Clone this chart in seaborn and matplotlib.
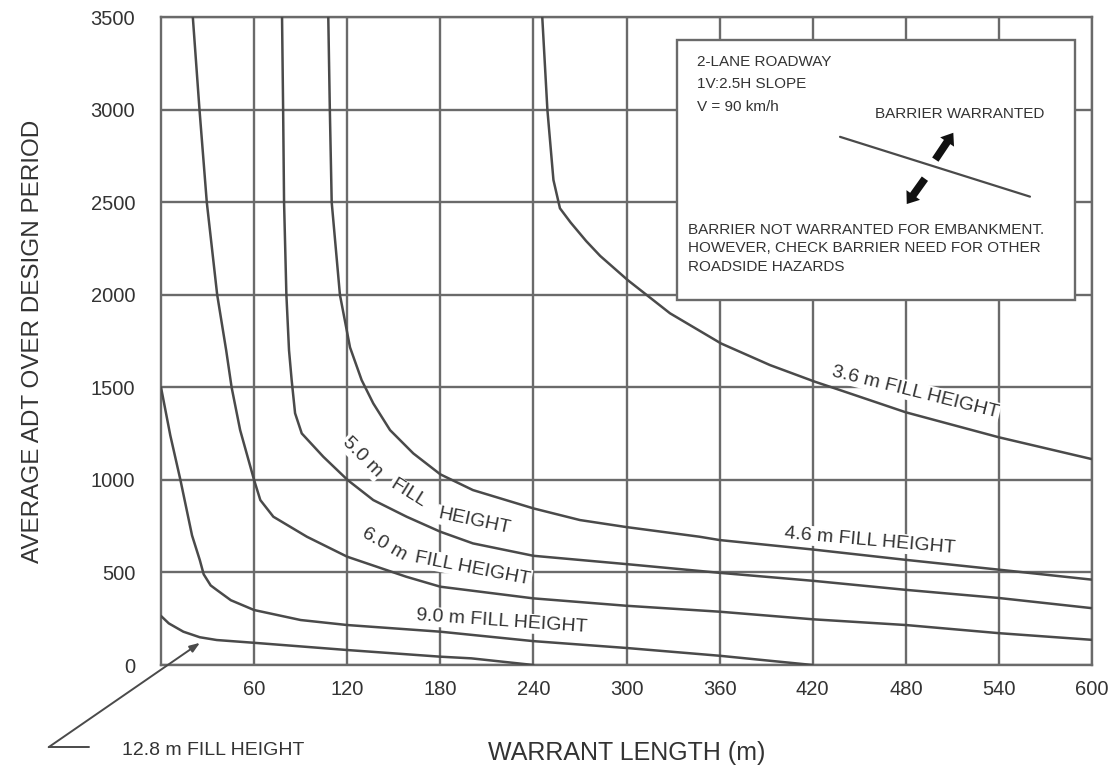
import matplotlib
matplotlib.use("Agg")
import matplotlib.pyplot as plt
from matplotlib.patches import Rectangle, FancyArrowPatch
import pandas as pd
import seaborn as sns

# ---- Barrier warrant curves: warrant length (m) vs. average ADT ----
fill_labels = ["12.8 m", "9.0 m", "6.0 m", "5.0 m", "4.6 m", "3.6 m"]

len_12_8 = [0, 5, 14.4, 25, 35.9, 60, 120, 180, 200, 240]
adt_12_8 = [265, 225, 180, 150, 135, 120, 81, 45, 36, 0]

len_9_0 = [0, 6, 12.5, 20, 25, 27.5, 32, 36, 45, 60, 90, 120, 180, 240, 300, 360, 420]
adt_9_0 = [1500, 1240, 1000, 700, 567, 490, 430, 405, 350, 297, 243, 216, 180, 129, 92, 50, 0]

len_6_0 = [20.5, 24.8, 29.5, 36.2, 42, 45.5, 51, 60, 64, 72.4, 94, 120, 158, 180, 240,
           300, 360, 420, 480, 540, 600]
adt_6_0 = [3500, 3000, 2500, 2000, 1700, 1500, 1269, 999, 891, 801, 693, 585, 477, 423, 360,
           320, 288, 247, 216, 172, 136]

len_5_0 = [78, 78.7, 79.3, 80.8, 82.5, 84.2, 86.4, 90.7, 104.6, 120.3, 136.8, 158.3, 180,
           201, 240, 300, 360, 420, 480, 540, 600]
adt_5_0 = [3500, 3000, 2500, 2000, 1700, 1539, 1360, 1251, 1125, 999, 891, 801, 720,
           657, 590, 545, 498, 455, 406, 362, 307]

len_4_6 = [107.8, 108.8, 110, 115.3, 121.8, 129.3, 136.8, 147.6, 162.6, 180, 201, 240, 270,
           300, 347, 360, 420, 480, 540, 600]
adt_4_6 = [3500, 3000, 2500, 2000, 1716, 1539, 1413, 1269, 1143, 1030, 945, 846, 783,
           745, 693, 675, 624, 568, 515, 461]

len_3_6 = [245.7, 249, 252.9, 257.1, 264, 274, 283, 300.8, 328, 360.9, 392.5, 421.5,
           437.6, 480, 540, 600]
adt_3_6 = [3500, 3000, 2620, 2467, 2390, 2290, 2210, 2079, 1900, 1737, 1620, 1530,
           1485, 1365, 1230, 1112]

x_ticks = [60, 120, 180, 240, 300, 360, 420, 480, 540, 600]
y_ticks = [0, 500, 1000, 1500, 2000, 2500, 3000, 3500]

lengths = [len_12_8, len_9_0, len_6_0, len_5_0, len_4_6, len_3_6]
adts = [adt_12_8, adt_9_0, adt_6_0, adt_5_0, adt_4_6, adt_3_6]

frames = []
for lab, xs, ys in zip(fill_labels, lengths, adts):
    frames.append(pd.DataFrame({"length": xs, "adt": ys, "fill": lab}))
df = pd.concat(frames, ignore_index=True)

# ---- style ----
sns.set_theme(style="white")
plt.rcParams["font.family"] = ["Liberation Sans", "DejaVu Sans"]

TEXT = "#333333"
CURVE = "#4a4a4a"
GRID = "#6a6a6a"

fig = plt.figure(figsize=(11.15, 7.65), dpi=100)
ax = fig.add_axes([0.1444, 0.1307, 0.835, 0.847])

sns.lineplot(data=df, x="length", y="adt", hue="fill", units="fill",
             palette={k: CURVE for k in fill_labels}, estimator=None, sort=False,
             legend=False, linewidth=1.8, ax=ax, zorder=5)

ax.set_xlim(0, 600)
ax.set_ylim(0, 3500)
ax.set_xticks(x_ticks)
ax.set_yticks(y_ticks)
ax.set_xticklabels([str(v) for v in x_ticks])
ax.set_yticklabels([str(v) for v in y_ticks])
ax.tick_params(axis="both", length=0, labelsize=14.5, labelcolor=TEXT)
ax.tick_params(axis="y", pad=18.5)
ax.tick_params(axis="x", pad=11)

ax.grid(True, color=GRID, linewidth=1.7, zorder=1)
ax.set_axisbelow(True)
for sp in ax.spines.values():
    sp.set_color(GRID)
    sp.set_linewidth(1.7)
    sp.set_visible(True)

ax.set_xlabel("WARRANT LENGTH (m)", fontsize=18, color=TEXT)
ax.xaxis.set_label_coords(0.5, -0.117)
ax.set_ylabel("AVERAGE ADT OVER DESIGN PERIOD", fontsize=17.5, color=TEXT)
ax.yaxis.set_label_coords(-0.126, 0.5)

# ---- curve labels (white backing breaks the grid under the text) ----
box = dict(facecolor="white", edgecolor="none", pad=1.0)
curve_texts = [
    ("3.6 m FILL HEIGHT", 486, 1475, -14),
    ("4.6 m FILL HEIGHT", 457, 670, -5),
    ("5.0 m", 129.7, 1122, -45),
    ("FILL", 159.4, 927, -32),
    ("HEIGHT", 201.7, 774, -12),
    ("6.0 m", 143.7, 654, -30),
    ("FILL HEIGHT", 200.8, 522, -11),
    ("9.0 m FILL HEIGHT", 219.5, 234, -4),
]
for txt, tx, ty, rot in curve_texts:
    ax.text(tx, ty, txt, rotation=rot, rotation_mode="anchor", ha="center", va="center",
            fontsize=14, color=TEXT, bbox=box, zorder=3)

# 12.8 m label below the axis with a leader arrow
ax.text(-25.3, -464, "12.8 m FILL HEIGHT", ha="left", va="center", fontsize=14,
        color=TEXT, clip_on=False, zorder=6)
ax.plot([-46.6, -72.4], [-443.7, -443.7], color=CURVE, lw=1.4, clip_on=False, zorder=6)
leader = FancyArrowPatch((-72.4, -443.7), (25.1, 120),
                         arrowstyle="-|>,head_length=6,head_width=2.2",
                         mutation_scale=1, color=CURVE, lw=1.4, clip_on=False, zorder=6,
                         shrinkA=0, shrinkB=0)
ax.add_patch(leader)

# ---- key box ----
key = Rectangle((332.3, 1971), 589 - 332.3, 3376 - 1971, facecolor="white",
                edgecolor=GRID, linewidth=1.7, zorder=7)
ax.add_patch(key)
kw = dict(fontsize=11, color=TEXT, zorder=8)
ax.text(345.2, 3259, "2-LANE ROADWAY", ha="left", va="center", **kw)
ax.text(345.2, 3137, "1V:2.5H SLOPE", ha="left", va="center", **kw)
ax.text(345.2, 3016, "V = 90 km/h", ha="left", va="center", **kw)
ax.text(515, 2976, "BARRIER WARRANTED", ha="center", va="center", **kw)
ax.text(339.8, 2350, "BARRIER NOT WARRANTED FOR EMBANKMENT.", ha="left", va="center", **kw)
ax.text(339.8, 2251, "HOWEVER, CHECK BARRIER NEED FOR OTHER", ha="left", va="center", **kw)
ax.text(339.8, 2148, "ROADSIDE HAZARDS", ha="left", va="center", **kw)
ax.plot([437.6, 560], [2853, 2530], color=CURVE, lw=1.6, zorder=8)
for tail, head in [((499, 2730), (510.6, 2875)), ((492.3, 2627), (480.6, 2490))]:
    arr = FancyArrowPatch(tail, head,
                          arrowstyle="simple,head_length=8,head_width=12,tail_width=5.5",
                          mutation_scale=1, color="#111111", lw=0, zorder=9,
                          shrinkA=0, shrinkB=0)
    ax.add_patch(arr)

fig.savefig("out.png", dpi=100)
